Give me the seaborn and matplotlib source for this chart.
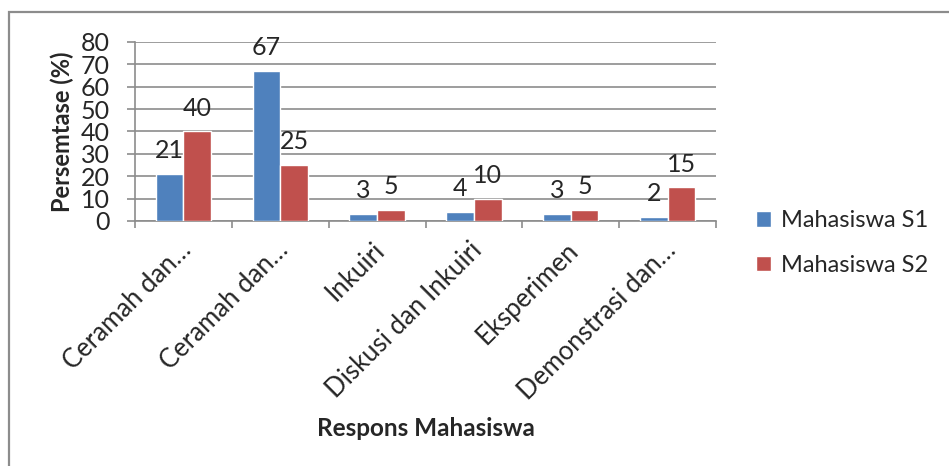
import seaborn as sns
import matplotlib.pyplot as plt
import pandas as pd
from matplotlib.patches import Rectangle
from matplotlib.ticker import FixedLocator
import matplotlib.transforms as mtransforms

# data
kategori = ['Ceramah dan…', 'Ceramah dan…', 'Inkuiri', 'Diskusi dan Inkuiri',
			'Eksperimen', 'Demonstrasi dan…']
mahasiswa_s1 = [21, 67, 3, 4, 3, 2]
mahasiswa_s2 = [40, 25, 5, 10, 5, 15]
seri = ['Mahasiswa S1', 'Mahasiswa S2']
warna = {'Mahasiswa S1': '#4F81BD', 'Mahasiswa S2': '#C0504D'}

# two categories share the same (truncated) label, so use the position as key
df = pd.DataFrame({
	'idx': list(range(len(kategori))) * 2,
	'Persentase': mahasiswa_s1 + mahasiswa_s2,
	'Seri': [seri[0]] * len(kategori) + [seri[1]] * len(kategori),
})

sns.set_style('white')
plt.rcParams['font.family'] = ['Lato', 'DejaVu Sans']

fig = plt.figure(figsize=(9.49, 4.66), dpi=100)
ax = fig.add_axes([135 / 949, 1 - 221 / 466, (716 - 135) / 949, (221 - 42) / 466])

sns.barplot(data=df, x='idx', y='Persentase', hue='Seri', palette=warna,
			width=0.57, gap=0, saturation=1, ax=ax, zorder=3)

grid_col = '#8C8C8C'
ax.set_ylim(0, 80)
ax.set_yticks(range(0, 81, 10))
ax.set_xlim(-0.5, len(kategori) - 0.5)
ax.yaxis.grid(True, color=grid_col, linewidth=1.2, zorder=0)
ax.xaxis.grid(False)
for s in ['top', 'right']:
	ax.spines[s].set_visible(False)
for s in ['left', 'bottom']:
	ax.spines[s].set_color(grid_col)
	ax.spines[s].set_linewidth(1.2)

ax.tick_params(axis='y', which='major', left=True, length=6, width=1.2,
			   color=grid_col, labelsize=18, pad=12)
ax.set_xticks(range(len(kategori)))
ax.set_xticklabels(kategori, rotation=45, ha='right', va='center',
				   rotation_mode='anchor', fontsize=18.5)
ax.tick_params(axis='x', which='major', length=0, pad=0)
ax.xaxis.set_minor_locator(FixedLocator([i - 0.5 for i in range(len(kategori) + 1)]))
ax.tick_params(axis='x', which='minor', bottom=True, length=5, width=1.2, color=grid_col)
shift = mtransforms.ScaledTranslation(4 / 100, -25 / 100, fig.dpi_scale_trans)
for lab in ax.get_xticklabels():
	lab.set_transform(lab.get_transform() + shift)

for c in ax.containers:
	ax.bar_label(c, padding=8.5, fontsize=18)

ax.set_ylabel('Persemtase (%)', fontsize=17, fontweight='bold')
ax.yaxis.set_label_coords((74 - 135) / 581, 0.5)
ax.set_xlabel('Respons Mahasiswa', fontsize=17.5, fontweight='bold')
ax.xaxis.set_label_coords(0.5, -(417 - 221) / 179)

sns.move_legend(ax, 'center left', bbox_to_anchor=(744 / 949, 1 - 243 / 466),
				bbox_transform=fig.transFigure, frameon=False, title=None,
				fontsize=17, handlelength=0.65, handleheight=0.65,
				handletextpad=0.4, labelspacing=1.0, borderpad=0)

# chart area border (only left and top edges inside the image)
fig.patches.append(Rectangle((9 / 949, -0.5), 2, 1 - 12 / 466 + 0.5, transform=fig.transFigure,
							 fill=False, edgecolor='#8C8C8C', linewidth=1.6, figure=fig))

plt.savefig('out.png', dpi=100)
